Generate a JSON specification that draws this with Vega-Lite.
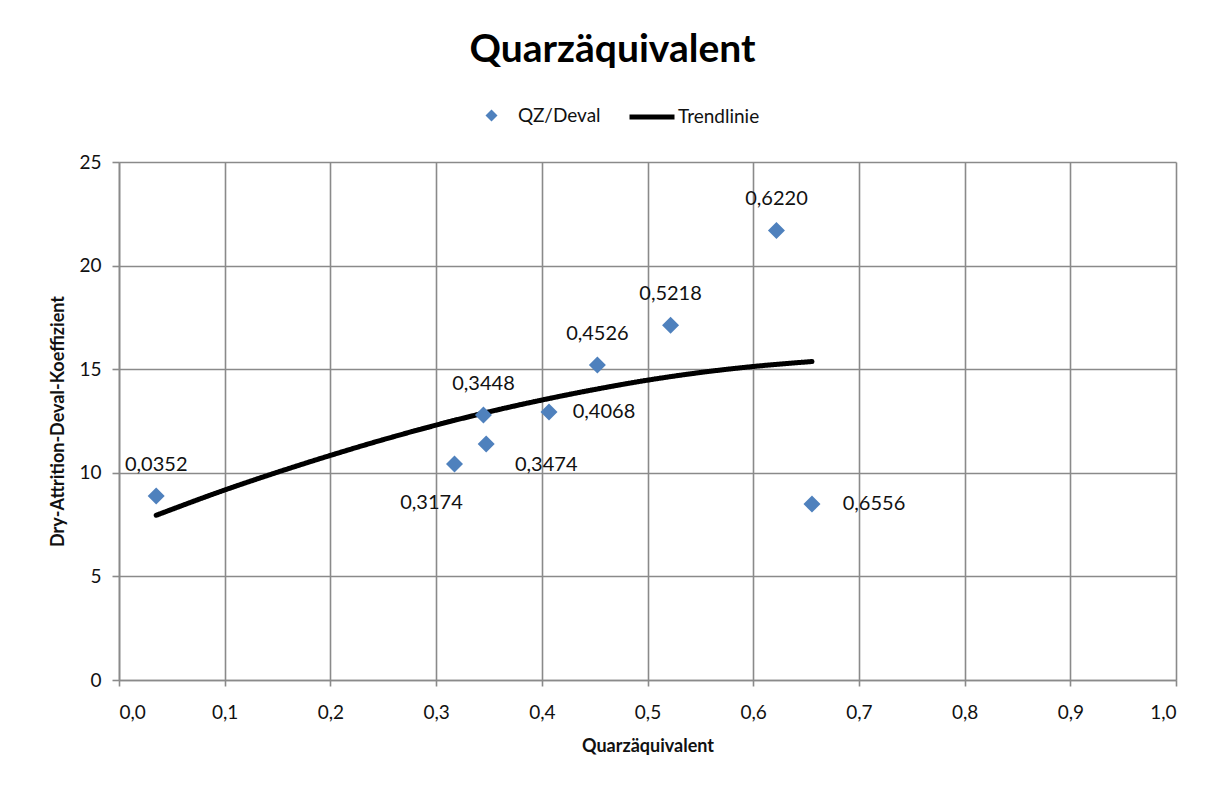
{
  "$schema": "https://vega.github.io/schema/vega-lite/v6.json",
  "width": 1057,
  "height": 518,
  "autosize": {"type": "none"},
  "padding": {"left": 119, "top": 162, "right": 37, "bottom": 105},
  "background": "white",
  "title": {
    "text": "Quarzäquivalent",
    "font": "Lato",
    "fontSize": 39,
    "fontWeight": "bold",
    "color": "#000000",
    "anchor": "middle",
    "frame": "group",
    "dx": -35,
    "offset": 22
  },
  "datasets": {
    "qz": [
      {"q": 0.0352, "d": 8.88, "series": "QZ/Deval"},
      {"q": 0.3174, "d": 10.42, "series": "QZ/Deval"},
      {"q": 0.3448, "d": 12.79, "series": "QZ/Deval"},
      {"q": 0.3474, "d": 11.39, "series": "QZ/Deval"},
      {"q": 0.4068, "d": 12.93, "series": "QZ/Deval"},
      {"q": 0.4526, "d": 15.20, "series": "QZ/Deval"},
      {"q": 0.5218, "d": 17.12, "series": "QZ/Deval"},
      {"q": 0.622, "d": 21.70, "series": "QZ/Deval"},
      {"q": 0.6556, "d": 8.49, "series": "QZ/Deval"}
    ],
    "trend": [
      {"q": 0.0352, "d": 7.95, "series": "Trendlinie"},
      {"q": 0.1, "d": 9.17, "series": "Trendlinie"},
      {"q": 0.15, "d": 10.03, "series": "Trendlinie"},
      {"q": 0.2, "d": 10.84, "series": "Trendlinie"},
      {"q": 0.25, "d": 11.60, "series": "Trendlinie"},
      {"q": 0.3, "d": 12.30, "series": "Trendlinie"},
      {"q": 0.35, "d": 12.94, "series": "Trendlinie"},
      {"q": 0.4, "d": 13.51, "series": "Trendlinie"},
      {"q": 0.45, "d": 14.02, "series": "Trendlinie"},
      {"q": 0.5, "d": 14.47, "series": "Trendlinie"},
      {"q": 0.55, "d": 14.84, "series": "Trendlinie"},
      {"q": 0.6, "d": 15.13, "series": "Trendlinie"},
      {"q": 0.6556, "d": 15.37, "series": "Trendlinie"}
    ]
  },
  "encoding": {
    "x": {
      "field": "q",
      "type": "quantitative",
      "title": "Quarzäquivalent",
      "scale": {"domain": [0, 1], "nice": false, "zero": false},
      "axis": {
        "values": [0, 0.1, 0.2, 0.3, 0.4, 0.5, 0.6, 0.7, 0.8, 0.9, 1.0],
        "format": ".1f",
        "tickSize": 6,
        "labelPadding": 17,
        "titlePadding": 15
      }
    },
    "y": {
      "field": "d",
      "type": "quantitative",
      "title": "Dry-Attrition-Deval-Koeffizient",
      "scale": {"domain": [0, 25], "nice": false},
      "axis": {
        "values": [0, 5, 10, 15, 20, 25],
        "format": "d",
        "tickSize": 7,
        "labelPadding": 11,
        "titlePadding": 11
      }
    }
  },
  "layer": [
    {
      "data": {"name": "trend"},
      "mark": {"type": "line", "color": "#000000", "strokeWidth": 5, "interpolate": "monotone", "strokeCap": "round"},
      "encoding": {
        "strokeDash": {
          "field": "series",
          "type": "nominal",
          "scale": {"domain": ["Trendlinie"], "range": [[1, 0]]},
          "legend": {
            "title": null,
            "orient": "none",
            "legendX": 508,
            "legendY": -70,
            "symbolType": "stroke",
            "symbolSize": 2025,
            "symbolStrokeWidth": 5,
            "symbolStrokeColor": "#000000",
            "labelOffset": 1,
            "labelFontSize": 19
          }
        }
      }
    },
    {
      "data": {"name": "qz"},
      "mark": {"type": "point", "shape": "diamond", "filled": true, "size": 289, "opacity": 1},
      "encoding": {
        "color": {
          "field": "series",
          "type": "nominal",
          "scale": {"domain": ["QZ/Deval"], "range": ["#4F81BD"]},
          "legend": {
            "title": null,
            "orient": "none",
            "legendX": 363,
            "legendY": -56,
            "symbolType": "diamond",
            "symbolSize": 144,
            "labelOffset": 17,
            "labelFontSize": 19
          }
        }
      }
    },
    {
      "data": {"name": "qz"},
      "transform": [{"filter": {"field": "q", "oneOf": [0.0352, 0.3448, 0.4526, 0.5218, 0.622]}}],
      "mark": {"type": "text", "dy": -31, "align": "center", "baseline": "middle"},
      "encoding": {"text": {"field": "q", "type": "quantitative", "format": ".4f"}}
    },
    {
      "data": {"name": "qz"},
      "transform": [{"filter": {"field": "q", "equal": 0.4068}}],
      "mark": {"type": "text", "dx": 55, "align": "center", "baseline": "middle"},
      "encoding": {"text": {"field": "q", "type": "quantitative", "format": ".4f"}}
    },
    {
      "data": {"name": "qz"},
      "transform": [{"filter": {"field": "q", "equal": 0.6556}}],
      "mark": {"type": "text", "dx": 62, "align": "center", "baseline": "middle"},
      "encoding": {"text": {"field": "q", "type": "quantitative", "format": ".4f"}}
    },
    {
      "data": {"name": "qz"},
      "transform": [{"filter": {"field": "q", "equal": 0.3474}}],
      "mark": {"type": "text", "dx": 60, "dy": 21, "align": "center", "baseline": "middle"},
      "encoding": {"text": {"field": "q", "type": "quantitative", "format": ".4f"}}
    },
    {
      "data": {"name": "qz"},
      "transform": [{"filter": {"field": "q", "equal": 0.3174}}],
      "mark": {"type": "text", "dx": -23, "dy": 39, "align": "center", "baseline": "middle"},
      "encoding": {"text": {"field": "q", "type": "quantitative", "format": ".4f"}}
    },
    {
      "data": {"values": [{"eq": "R² = 0,2681"}]},
      "mark": {"type": "text", "fontWeight": "bold", "align": "center", "baseline": "middle"},
      "encoding": {
        "x": {"datum": 0.635, "type": "quantitative"},
        "y": {"datum": 12.93, "type": "quantitative"},
        "text": {"field": "eq", "type": "nominal"}
      }
    }
  ],
  "config": {
    "locale": {
      "number": {"decimal": ",", "thousands": ".", "grouping": [3], "currency": ["", " €"]}
    },
    "font": "Lato",
    "view": {"stroke": null},
    "text": {"font": "Lato", "fontSize": 20, "color": "#111111"},
    "axis": {
      "grid": true,
      "gridColor": "#8a8a8a",
      "gridWidth": 1.6,
      "domainColor": "#8a8a8a",
      "domainWidth": 1.6,
      "tickColor": "#8a8a8a",
      "tickWidth": 1.6,
      "labelFont": "Lato",
      "labelFontSize": 19,
      "labelColor": "#111111",
      "titleFont": "Lato",
      "titleFontSize": 18,
      "titleFontWeight": "bold",
      "titleColor": "#111111"
    },
    "legend": {
      "labelFont": "Lato",
      "labelFontSize": 18,
      "labelColor": "#111111",
      "padding": 0
    }
  }
}
